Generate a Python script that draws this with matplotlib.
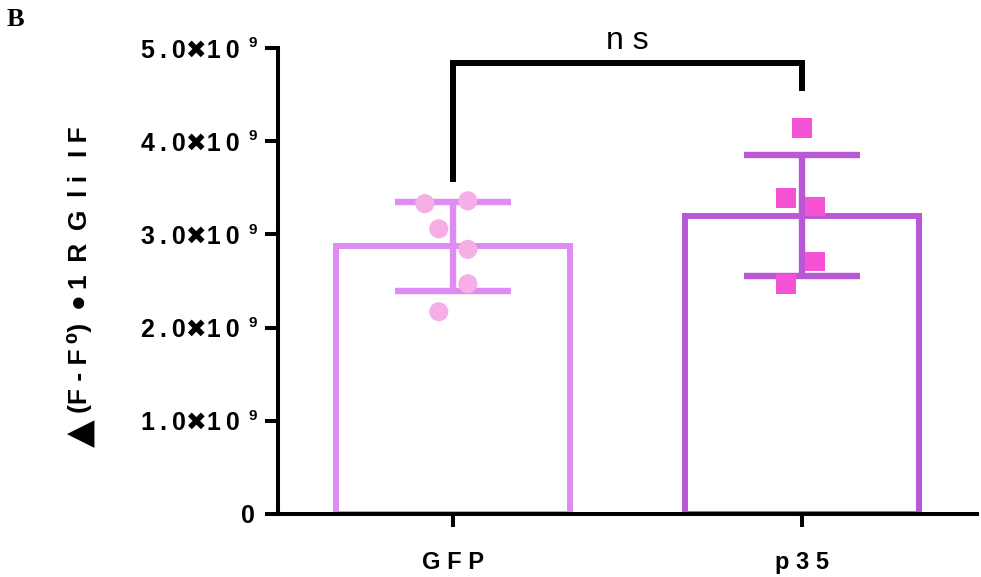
import numpy as np
import matplotlib
matplotlib.use("Agg")
import matplotlib.pyplot as plt
from matplotlib.transforms import offset_copy

# groups and raw points
groups = ["GFP", "p35"]
tick_text = ["G F P", "p 3 5"]
gfp_vals = [3.33e9, 3.36e9, 3.06e9, 2.84e9, 2.47e9, 2.17e9]
p35_vals = [4.14e9, 3.39e9, 3.30e9, 2.71e9, 2.47e9]
gfp_jitter = [-0.08, 0.043, -0.04, 0.043, 0.043, -0.04]
p35_jitter = [0.0, -0.046, 0.037, 0.037, -0.046]

yticks = [0, 1e9, 2e9, 3e9, 4e9, 5e9]
ts = "\u2009"
ytick_text = ["0"] + [f"{d}{ts}.{ts}0\u27161{ts}0" for d in "12345"]
exponent = "9"

# bracket heights for the ns comparison
bracket_left = 3.56e9
bracket_right = 4.54e9
bracket_top = 4.84e9

bar_edge = ["#DE8CF3", "#B858D6"]
pt_color = ["#F5AEE6", "#F552D6"]
pt_marker = ["o", "s"]

fam = ["Liberation Sans", "DejaVu Sans"]
plt.rcParams["font.family"] = fam

fig = plt.figure(figsize=(9.81, 5.77), dpi=100)
ax = fig.add_axes([0.2834, 0.1092, 0.7126, 0.8076])

x = np.arange(len(groups))
data = [np.array(gfp_vals), np.array(p35_vals)]
jit = [gfp_jitter, p35_jitter]
means = [d.mean() for d in data]
sds = [d.std(ddof=1) for d in data]

for i in range(len(groups)):
    ax.bar(x[i], means[i], width=0.67, facecolor="white",
           edgecolor=bar_edge[i], linewidth=4.3, zorder=1)
    ax.errorbar(x[i], means[i], yerr=sds[i], color=bar_edge[i], elinewidth=4.6,
                capsize=42, capthick=4.6, fmt="none", zorder=2)
    ax.scatter(x[i] + np.array(jit[i]), data[i], s=190 if i == 0 else 200,
               marker=pt_marker[i], color=pt_color[i], edgecolors="none",
               zorder=3, clip_on=False)

# significance bracket
ax.plot([x[0], x[0], x[1], x[1]],
        [bracket_left, bracket_top, bracket_top, bracket_right],
        color="black", linewidth=4.3, solid_capstyle="butt",
        solid_joinstyle="miter", clip_on=False, zorder=4)
ax.text((x[0] + x[1]) / 2, 5.07e9, "n s", ha="center", va="center",
        fontsize=23, clip_on=False)

ax.set_xlim(-0.5, 1.5)
ax.set_ylim(0, 5e9)
ax.set_xticks(x)
ax.set_xticklabels(tick_text, fontsize=17, fontweight="bold")
ax.set_yticks(yticks)
ax.set_yticklabels(ytick_text, fontsize=18, fontweight="bold")
ax.tick_params(axis="x", length=9.5, width=2.9, pad=17)
ax.tick_params(axis="y", length=9.5, width=2.9, pad=18)
ax.yaxis.get_major_ticks()[0].set_pad(7)

# superscript exponent next to each nonzero tick label
exp_tr = offset_copy(ax.get_yaxis_transform(), fig=fig, x=-21, y=3.5, units="points")
for yv in yticks[1:]:
    ax.text(0, yv, exponent, transform=exp_tr, ha="left", va="center",
            fontsize=11, fontweight="bold", clip_on=False)

for s in ["top", "right"]:
    ax.spines[s].set_visible(False)
for s in ["left", "bottom"]:
    ax.spines[s].set_linewidth(2.9)
    ax.spines[s].set_zorder(5)

# y label: big delta triangle, then the rest
fig.text(80 / 981, 1 - 433 / 577, "\u25b2", rotation=90, ha="center",
         va="center", fontsize=26, family="DejaVu Sans")
fig.text(80 / 981, 1 - 270 / 577,
         "(F - F\u2009\u2070)\u2009 \u25cf\u20091 \u2009R \u2009G \u2009l i\u2009 \u2009I F",
         rotation=90, ha="center", va="center", fontsize=19, fontweight="bold")

fig.text(7 / 981, 1 - 20 / 577, "B", family="Liberation Serif",
         fontweight="bold", fontsize=19, ha="left", va="center")

fig.savefig("out.png", dpi=100)
